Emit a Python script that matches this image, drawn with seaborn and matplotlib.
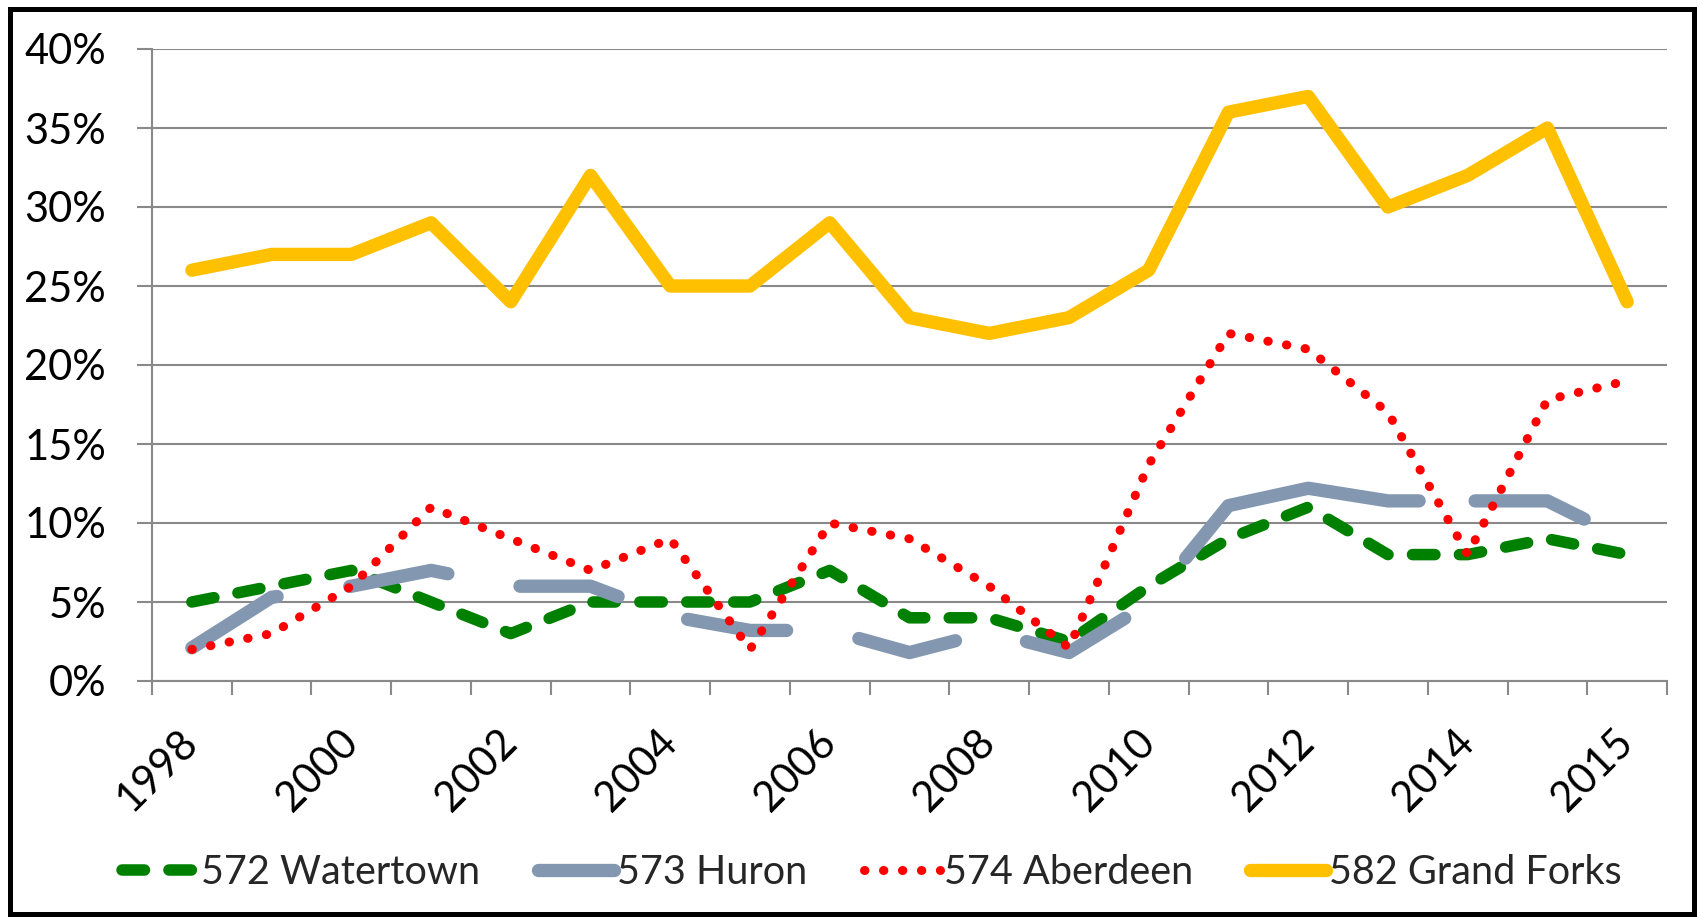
import numpy as np
import pandas as pd
import matplotlib
matplotlib.use("Agg")
import matplotlib.pyplot as plt
from matplotlib.patches import Rectangle
from matplotlib.ticker import PercentFormatter, MultipleLocator
import seaborn as sns

# Category axis: one entry per period, every other one labelled
period_labels = ["1998", "", "2000", "", "2002", "", "2004", "", "2006", "",
                 "2008", "", "2010", "", "2012", "", "2014", "", "2015"]

# Share of total, in percent
watertown = [5, 6, 7, 5, 3, 5, 5, 5, 7, 4, 4, 2.5, 6, 9, 11, 8, 8, 9, 8]
huron = [2.1, 5.3, 6, 7, 6, 6, 4.1, 3.2, 3.2, 1.8, 3.1, 1.8, 4.9, 11.1, 12.2,
         11.4, 11.4, 11.4, 8.9]
aberdeen = [2, 3, 6, 11, 9, 7, 9, 2, 10, 9, 6, 2.1, 13.7, 22, 21, 17, 8, 17.8, 19]
grand_forks = [26, 27, 27, 29, 24, 32, 25, 25, 29, 23, 22, 23, 26, 36, 37, 30,
               32, 35, 24]

series_names = ["572 Watertown", "573 Huron", "574 Aberdeen", "582 Grand Forks"]
series_values = [watertown, huron, aberdeen, grand_forks]

df = pd.DataFrame({"period": np.arange(len(period_labels))})
for name, vals in zip(series_names, series_values):
    df[name] = vals

# Long-dash pattern for the Huron line (lengths in line widths)
huron_dashes = [7.5, 5.5] * 5 + [8.2, 6.5] + [19.6, 4.2] + [8.5, 5.5]

styles = {
    "572 Watertown": dict(color="#008000", linewidth=8.3, linestyle=(0, (1.95, 2.12))),
    "573 Huron": dict(color="#8497B0", linewidth=9.6, linestyle=(0, huron_dashes)),
    "574 Aberdeen": dict(color="#FF0000", linewidth=6.5, linestyle=(0, (0.05, 2.05))),
    "582 Grand Forks": dict(color="#FFC000", linewidth=9.6, linestyle="-"),
}

sns.set_theme(style="white")
plt.rcParams["font.family"] = ["Lato", "DejaVu Sans"]

GRID = "#898989"

fig = plt.figure(figsize=(16.98, 9.17), dpi=100)
W, H = 1698, 917
ax = fig.add_axes([152 / W, 1 - 681 / H, (1667 - 152) / W, (681 - 49) / H])

for name in series_names:
    sns.lineplot(data=df, x="period", y=name, ax=ax, label=name, sort=False,
                 estimator=None, dash_capstyle="round", solid_capstyle="round",
                 dash_joinstyle="round", solid_joinstyle="round", **styles[name])

if ax.get_legend() is not None:
    ax.get_legend().remove()

ax.set_xlim(-0.5, len(period_labels) - 0.5)
ax.set_ylim(0, 40)
ax.set_xlabel("")
ax.set_ylabel("")

# y axis
ax.yaxis.set_major_locator(MultipleLocator(5))
ax.yaxis.set_major_formatter(PercentFormatter(100, decimals=0))
ax.yaxis.grid(True, color=GRID, linewidth=1.5)
ax.xaxis.grid(False)
ax.set_axisbelow(True)
ax.tick_params(axis="y", which="major", left=True, length=11, width=1.5,
               color=GRID, pad=22, labelsize=30, labelcolor="black")

# x axis: tick marks between categories, labels at category centres
ax.set_xticks(np.arange(-0.5, len(period_labels)), [""] * (len(period_labels) + 1))
ax.set_xticks(np.arange(len(period_labels)), period_labels, minor=True)
ax.tick_params(axis="x", which="major", bottom=True, length=10, width=1.5,
               color=GRID, direction="out")
ax.tick_params(axis="x", which="minor", bottom=True, length=0, pad=40,
               labelsize=30, labelcolor="black")
plt.setp(ax.get_xticklabels(minor=True), rotation=45, ha="right", va="center",
         rotation_mode="anchor")

for side in ["top", "right"]:
    ax.spines[side].set_visible(False)
for side in ["left", "bottom"]:
    ax.spines[side].set_color(GRID)
    ax.spines[side].set_linewidth(1.5)

handles, labels = ax.get_legend_handles_labels()
fig.legend(handles, labels, loc="center", bbox_to_anchor=(872 / W, 1 - 872 / H),
           ncol=4, frameon=False, fontsize=28.5, handlelength=1.92,
           handletextpad=0.08, columnspacing=1.45)

# Outer frame around the whole chart
fig.patches.append(Rectangle((10 / W, 3 / H), 1684 / W, 905 / H,
                             transform=fig.transFigure, fill=False,
                             edgecolor="black", linewidth=3.6))

fig.savefig("out.png", dpi=100)
